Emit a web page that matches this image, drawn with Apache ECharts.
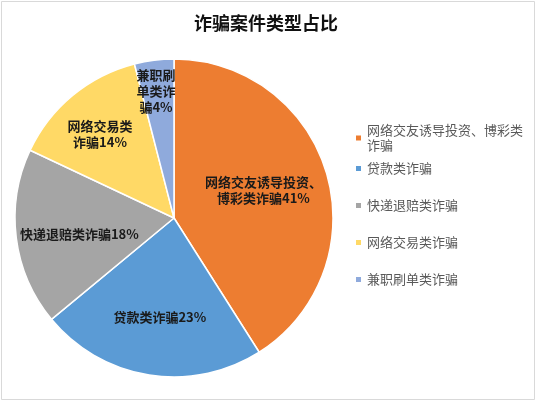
<!DOCTYPE html>
<html>
<head>
<meta charset="utf-8">
<script src="https://cdn.jsdelivr.net/npm/echarts@6/dist/echarts.min.js"></script>
<style>
  html, body { margin: 0; padding: 0; background: #fff; }
  #main { width: 537px; height: 403px; }
</style>
</head>
<body>
<div id="main"></div>
<script>
// ====== 数据 ======
const categories = ["网络交友诱导投资、博彩类诈骗", "贷款类诈骗", "快递退赔类诈骗", "网络交易类诈骗", "兼职刷单类诈骗"];
const shares = [41, 23, 18, 14, 4];
// 饼内标签（按原图换行）
const sliceLabels = ["网络交友诱导投资、\n博彩类诈骗", "贷款类诈骗", "快递退赔类诈骗", "网络交易类\n诈骗", "兼职刷\n单类诈\n骗"];
const colors = ["#ED7D31", "#5B9BD5", "#A5A5A5", "#FFD966", "#8FAADC"];

const chart = echarts.init(document.getElementById("main"));

const pieData = categories.map((name, i) => ({
  name: name,
  value: shares[i],
  itemStyle: { color: colors[i] }
}));

const legendText = {
  fontFamily: "Noto Sans CJK SC",
  fontSize: 13,
  lineHeight: 15,
  color: "#595959"
};

// 标签微调（Excel 的“最佳位置”不完全在同一半径上）
const labelNudge = [[-10, 1], [2, -3], [8, 3], [-8, -4], [-5, -24]];

const option = {
  backgroundColor: "#fff",
  animation: false,
  title: {
    text: "诈骗案件类型占比",
    left: 261,
    top: 9,
    textAlign: "center",
    textStyle: {
      fontFamily: "Noto Sans CJK SC",
      fontSize: 18,
      fontWeight: "bold",
      color: "#111"
    }
  },
  // 第一项两行，单独一个图例，其余等距排列
  legend: [
    {
      orient: "vertical",
      left: 349,
      top: 118,
      itemWidth: 7,
      itemHeight: 7,
      icon: "rect",
      data: [categories[0]],
      formatter: () => "网络交友诱导投资、博彩类\n诈骗",
      textStyle: legendText
    },
    {
      orient: "vertical",
      left: 349,
      top: 156,
      itemWidth: 7,
      itemHeight: 7,
      itemGap: 22,
      icon: "rect",
      data: categories.slice(1),
      textStyle: legendText
    }
  ],
  graphic: [{
    type: "rect",
    shape: { x: 1.5, y: 1.5, width: 533, height: 398 },
    style: { fill: "none", stroke: "#d9d9d9", lineWidth: 1 },
    silent: true
  }],
  series: [
    {
      // 主饼图
      name: "诈骗类型",
      type: "pie",
      center: [174, 218],
      radius: [0, 159],
      startAngle: 90,
      clockwise: true,
      label: { show: false },
      labelLine: { show: false },
      itemStyle: { borderColor: "#fff", borderWidth: 1.5 },
      emphasis: { disabled: true },
      data: pieData
    },
    {
      // 透明环，仅用于把标签放到约 0.63 半径处
      name: "标签",
      type: "pie",
      center: [174, 218],
      radius: [42, 159],
      startAngle: 90,
      clockwise: true,
      silent: true,
      itemStyle: { color: "transparent" },
      emphasis: { disabled: true },
      label: {
        show: true,
        position: "inside",
        fontFamily: "Noto Sans CJK SC",
        fontSize: 13,
        fontWeight: "bold",
        lineHeight: 16,
        color: "#1a1a1a",
        formatter: (p) => sliceLabels[p.dataIndex] + p.value + "%"
      },
      labelLine: { show: false },
      labelLayout: (p) => ({ dx: labelNudge[p.dataIndex][0], dy: labelNudge[p.dataIndex][1] }),
      data: pieData.map(d => ({ name: d.name, value: d.value }))
    }
  ]
};

chart.setOption(option);
window.addEventListener("resize", () => chart.resize());
</script>
</body>
</html>
